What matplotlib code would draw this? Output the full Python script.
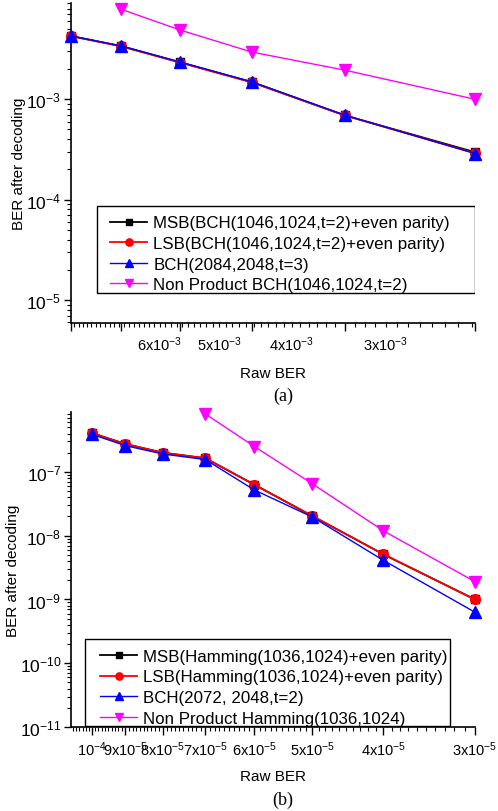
import numpy as np
import matplotlib
matplotlib.use('Agg')
import matplotlib.pyplot as plt
from matplotlib.patches import Rectangle
from matplotlib.ticker import (FixedLocator, MultipleLocator, LogLocator,
                               FuncFormatter, NullFormatter, FixedFormatter)

plt.rcParams['font.family'] = ['Liberation Sans', 'DejaVu Sans']

# ---------------- Panel (a) data ----------------
raw_ber_a = [7.88e-3, 6.76e-3, 5.64e-3, 4.52e-3, 3.40e-3, 2.28e-3]
msb_a = [4.27e-3, 3.39e-3, 2.34e-3, 1.48e-3, 6.9e-4, 2.97e-4]
lsb_a = [4.25e-3, 3.37e-3, 2.32e-3, 1.47e-3, 6.9e-4, 2.90e-4]
bch_a = [4.27e-3, 3.40e-3, 2.35e-3, 1.49e-3, 6.95e-4, 2.88e-4]
nonprod_x_a = [6.76e-3, 5.64e-3, 4.52e-3, 3.40e-3, 2.28e-3]
nonprod_a = [7.9e-3, 4.9e-3, 2.95e-3, 1.95e-3, 1.0e-3]
xtick_vals_a = [6e-3, 5e-3, 4e-3, 3e-3]
xtick_labels_a = ['6x10^{-3}', '5x10^{-3}', '4x10^{-3}', '3x10^{-3}']
legend_a = ['MSB(BCH(1046,1024,t=2)+even parity)',
            'LSB(BCH(1046,1024,t=2)+even parity)',
            'BCH(2084,2048,t=3)',
            'Non Product BCH(1046,1024,t=2)']

# ---------------- Panel (b) data ----------------
raw_ber_b = [1e-4, 9e-5, 8e-5, 7e-5, 6e-5, 5e-5, 4e-5, 3e-5]
msb_b = [4.07e-7, 2.74e-7, 2.0e-7, 1.64e-7, 6.3e-8, 2.03e-8, 5.1e-9, 1.0e-9]
lsb_b = [4.07e-7, 2.74e-7, 2.0e-7, 1.64e-7, 6.3e-8, 2.03e-8, 5.1e-9, 1.0e-9]
bch_b = [3.88e-7, 2.58e-7, 1.91e-7, 1.56e-7, 5.2e-8, 1.96e-8, 4.1e-9, 6.3e-10]
nonprod_x_b = [7e-5, 6e-5, 5e-5, 4e-5, 3e-5]
nonprod_b = [8.1e-7, 2.5e-7, 6.5e-8, 1.19e-8, 1.9e-9]
xtick_labels_b = ['10^{-4}', '9x10^{-5}', '8x10^{-5}', '7x10^{-5}',
                  '6x10^{-5}', '5x10^{-5}', '4x10^{-5}', '3x10^{-5}']
legend_b = ['MSB(Hamming(1036,1024)+even parity)',
            'LSB(Hamming(1036,1024)+even parity)',
            'BCH(2072, 2048,t=2)',
            'Non Product Hamming(1036,1024)']

W, H = 498, 812
fig = plt.figure(figsize=(W / 100, H / 100), dpi=100)

def px_axes(l, t, r, b):
    return fig.add_axes([l / W, 1 - b / H, (r - l) / W, (b - t) / H])

ax_a = px_axes(71, 4, 475, 324)
ax_b = px_axes(71, 413, 475, 728)

styles = [dict(color='black', marker='s', ms=5.5, lw=1.3),
          dict(color='#ff0000', marker='o', ms=7, lw=1.3),
          dict(color='#0000ff', marker='^', ms=8, lw=1.0),
          dict(color='#ff00ff', marker='v', ms=8, lw=1.0)]

def sci(v):
    e = int(np.round(np.log10(v)))
    return r'$\mathregular{10^{%d}}$' % e

def style_axes(ax, ylim):
    ax.set_xscale('log')
    ax.set_yscale('log')
    ax.set_ylim(*ylim)
    for s in ['top', 'right']:
        ax.spines[s].set_visible(False)
    for s in ['left', 'bottom']:
        ax.spines[s].set_linewidth(1.2)
    ax.yaxis.set_major_locator(LogLocator(base=10, numticks=20))
    ax.yaxis.set_minor_locator(LogLocator(base=10, subs=np.arange(2, 10), numticks=20))
    ax.yaxis.set_major_formatter(FuncFormatter(lambda v, p: sci(v)))
    ax.yaxis.set_minor_formatter(NullFormatter())
    ax.tick_params(axis='y', which='major', direction='out', length=5, width=1, labelsize=12.5, pad=2)
    ax.tick_params(axis='y', which='minor', direction='out', length=3, width=0.8)
    ax.tick_params(axis='x', which='major', direction='out', length=6, width=1, labelsize=10.5, pad=3)
    ax.tick_params(axis='x', which='minor', direction='out', length=3, width=0.8)
    ax.set_xlabel('Raw BER', fontsize=11, labelpad=8)
    ax.set_ylabel('BER after decoding', fontsize=11, labelpad=0)

leg_kw = dict(fontsize=12.2, frameon=False, handlelength=2.2, handletextpad=0.35,
              labelspacing=0.33, borderpad=0, numpoints=1, markerscale=0.75,
              borderaxespad=0, loc='upper left')

def framed_legend(ax, anchor, box):
    ax.legend(bbox_to_anchor=anchor, **leg_kw)
    ax.add_patch(Rectangle((box[0], box[1]), box[2], box[3], transform=ax.transAxes,
                           fill=True, facecolor='white', edgecolor='black', lw=1.0,
                           zorder=4))
    ax.get_legend().set_zorder(5)

# ---- Panel (a)
series_a = [(raw_ber_a, msb_a), (raw_ber_a, lsb_a), (raw_ber_a, bch_a), (nonprod_x_a, nonprod_a)]
for (xs, ys), st, lab in zip(series_a, styles, legend_a):
    ax_a.plot(xs, ys, label=lab, clip_on=False, zorder=3, **st)
style_axes(ax_a, (5.9e-6, 9.1e-3))
ax_a.set_xlim(raw_ber_a[0], raw_ber_a[-1])
ax_a.xaxis.set_major_locator(FixedLocator(raw_ber_a))
ax_a.xaxis.set_major_formatter(NullFormatter())
ax_a.xaxis.set_minor_locator(MultipleLocator(1e-4))
ax_a.xaxis.set_minor_formatter(NullFormatter())
for v, t in zip(xtick_vals_a, xtick_labels_a):
    ax_a.annotate(r'$\mathregular{%s}$' % t, xy=(v, 0), xycoords=('data', 'axes fraction'),
                  xytext=(0, -8), textcoords='offset points', ha='center', va='top',
                  fontsize=10.5)
ax_a.xaxis.labelpad = 22
framed_legend(ax_a, (0.0965, 0.336), (0.064, 0.094, 0.936, 0.272))

# ---- Panel (b)
series_b = [(raw_ber_b, msb_b), (raw_ber_b, lsb_b), (raw_ber_b, bch_b), (nonprod_x_b, nonprod_b)]
for (xs, ys), st, lab in zip(series_b, styles, legend_b):
    ax_b.plot(xs, ys, label=lab, clip_on=False, zorder=3, **st)
style_axes(ax_b, (1e-11, 8.7e-7))
ax_b.set_xlim(1.068e-4, 3e-5)
ax_b.xaxis.set_major_locator(FixedLocator(raw_ber_b))
ax_b.xaxis.set_major_formatter(FixedFormatter([r'$\mathregular{%s}$' % t for t in xtick_labels_b]))
ax_b.xaxis.set_minor_locator(MultipleLocator(1e-6))
ax_b.xaxis.set_minor_formatter(NullFormatter())
framed_legend(ax_b, (0.0718, 0.248), (0.0347, 0.003, 0.9035, 0.276))

fig.text(283 / W, 1 - 396 / H, '(a)', family='Liberation Serif', fontsize=13, ha='center', va='center')
fig.text(283 / W, 1 - 800 / H, '(b)', family='Liberation Serif', fontsize=13, ha='center', va='center')

fig.savefig('out.png', dpi=100)
